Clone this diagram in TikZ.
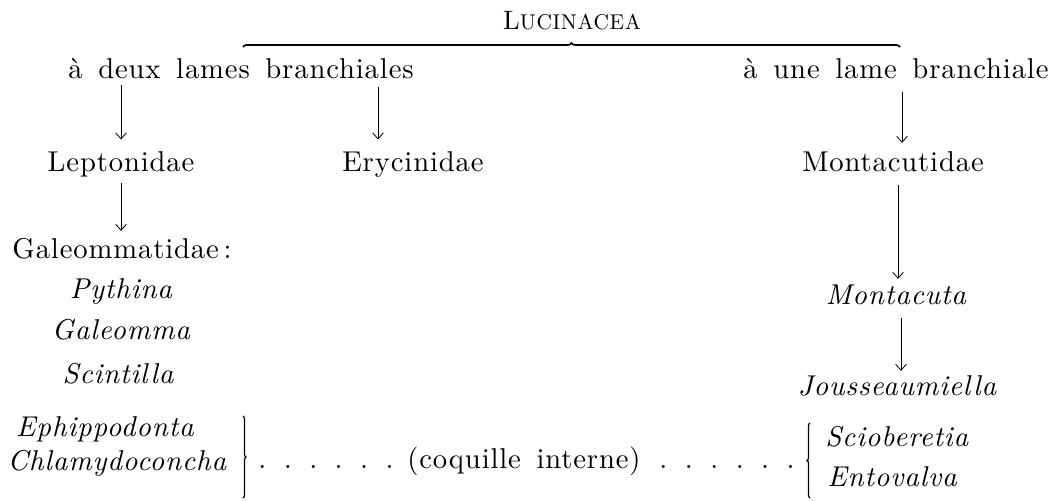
\documentclass[tikz,border=0pt]{standalone}
\usepackage{fontspec}
\setmainfont{lmroman10-regular.otf}[ItalicFont=lmroman10-italic.otf, BoldFont=lmroman10-bold.otf, WordSpace=1.5]
\usetikzlibrary{arrows.meta,decorations.pathreplacing,calc}
\newcommand\bigtxt{\fontsize{21.5}{25}\selectfont\addfontfeatures{LetterSpace=3}}
\newcommand\onedot{\makebox[19.1pt]{.}}
\newcommand\dotrow{\onedot\onedot\onedot\onedot\onedot\onedot}
\tikzset{
  txt/.style={inner sep=0pt, anchor=base, font=\bigtxt},
  itx/.style={txt, font=\bigtxt\itshape},
  arr/.style={line width=0.6pt, -{Straight Barb[length=4.5pt,width=8pt,line width=0.6pt]}},
  topbrace/.style={line width=1.3pt, decorate, decoration={brace, amplitude=3pt}},
  sidebrace/.style={line width=0.9pt, decorate, decoration={brace, amplitude=2.2pt}}
}
\begin{document}
\begin{tikzpicture}[x=0.75pt,y=-0.75pt]
\useasboundingbox[fill=white] (0,0) rectangle (1064,500);
% titles
\node[txt] (luc) at (572,29) {\fontsize{20}{22}\selectfont L{\fontsize{16}{18}\selectfont UCINACEA}};
\node[txt] (deux) at (241,78) {à deux lames branchiales};
\node[txt] (une) at (896,78) {à une lame branchiale};
% families
\node[txt] (lepto) at (121,171) {Leptonidae};
\node[txt] (ery) at (413,171) {Erycinidae};
\node[txt] (mtd) at (893,171) {Montacutidae};
\node[txt] (gal) at (122,258) {Galeommatidae\,:};
% genera left
\node[itx] (pyth) at (121,298) {Pythina};
\node[itx] (galm) at (121,339) {Galeomma};
\node[itx] (scin) at (118,383) {Scintilla};
\node[itx] (ephi) at (105,436) {Ephippodonta};
\node[itx] (chla) at (117,470) {Chlamydoconcha};
% genera right
\node[itx] (mta) at (896,304) {Montacuta};
\node[itx] (jous) at (897,395) {Jousseaumiella};
\node[itx, anchor=base west] (scio) at (825,446) {Scioberetia};
\node[itx, anchor=base west] (ento) at (827,486) {Entovalva};
% bottom line
\node[txt] (dl) at (326,468) {\dotrow};
\node[txt] (coq) at (524,468) {(coquille interne)};
\node[txt] (dr) at (727,468) {\dotrow};
% brace on top
\draw[topbrace] (243,47) -- (900,47);
% side braces
\draw[sidebrace] (243,416) -- (243,498);
\draw[sidebrace] (810,498) -- (810,423);
% arrows
\draw[arr, shorten <=5pt, shorten >=8.5pt] (deux.south -| lepto.north) -- (lepto.north);
\draw[arr, shorten <=6pt, shorten >=8.5pt] ($(deux.south -| ery.north)+(-35,0)$) -- ($(ery.north)+(-35,0)$);
\draw[arr, shorten <=10pt, shorten >=6pt] ($(une.south -| mtd.north)+(9,0)$) -- ($(mtd.north)+(9,0)$);
\draw[arr, shorten <=4.5pt, shorten >=5pt] (lepto.south) -- (lepto.south |- gal.north);
\draw[arr, shorten <=10pt, shorten >=4pt] ($(mtd.south)+(5,0)$) -- ($(mtd.south |- mta.north)+(5,0)$);
\draw[arr, shorten <=10pt, shorten >=3pt] ($(mta.south)+(5,0)$) -- ($(mta.south |- jous.north)+(5,0)$);
\end{tikzpicture}
\end{document}
